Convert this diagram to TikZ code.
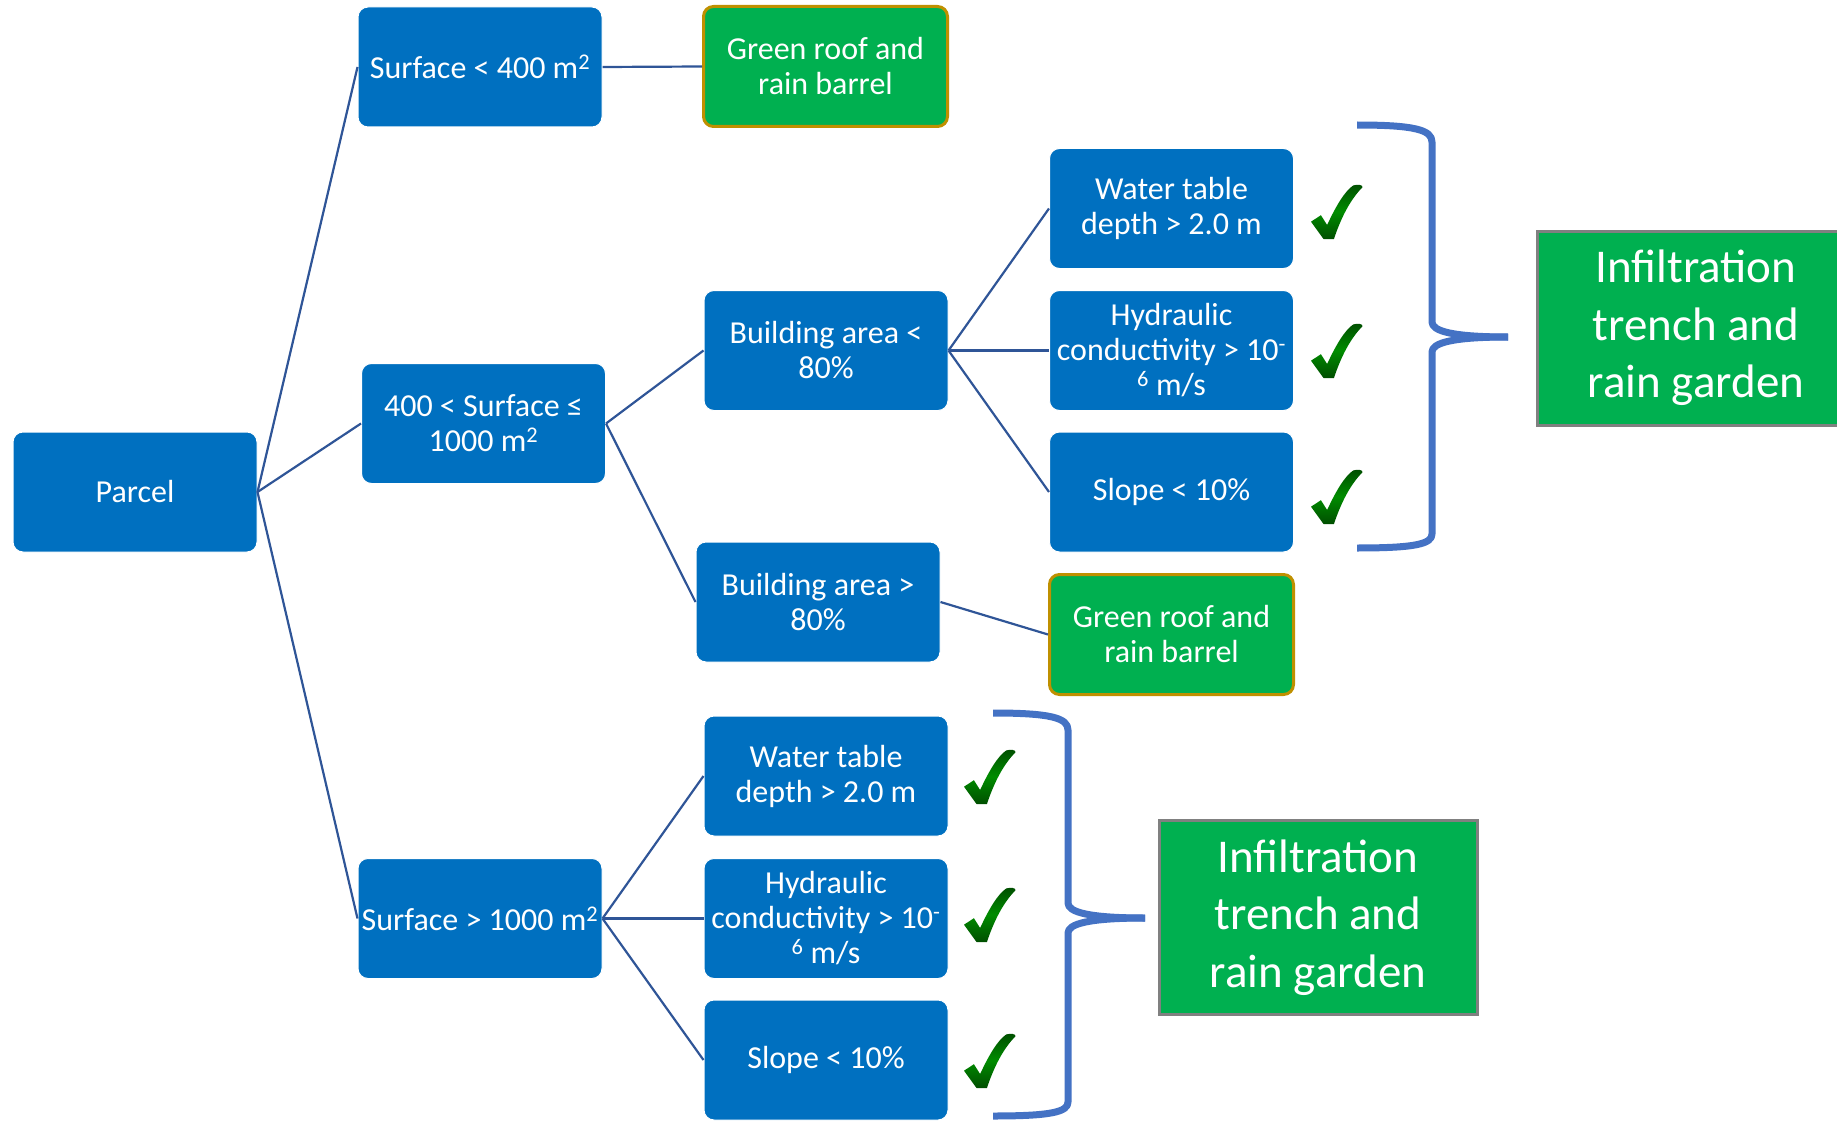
\documentclass[tikz,border=0pt]{standalone}
\usepackage{fontspec}
\setmainfont{Carlito}
\usepackage{tikz}
\usetikzlibrary{calc,shapes,positioning}
\definecolor{boxblue}{RGB}{0,112,192}
\definecolor{leafgreen}{RGB}{0,176,80}
\definecolor{linkblue}{RGB}{47,85,151}
\definecolor{braceblue}{RGB}{68,114,196}
\definecolor{roofedge}{RGB}{191,144,0}
\definecolor{ticklight}{RGB}{0,140,0}
\definecolor{tickdark}{RGB}{0,78,0}

% green check mark, origin at its lower left
\tikzset{tick/.pic={
  \shade[top color=tickdark, bottom color=tickdark, middle color=ticklight]
    (12.5pt,0pt) -- (0pt,17.3pt) -- (9.9pt,23.8pt) -- (16.1pt,14pt)
    .. controls (26pt,35.1pt) and (33.8pt,47.5pt) .. (42.1pt,53.5pt)
    .. controls (46.8pt,55pt) and (52pt,54pt) .. (51.5pt,51.8pt)
    .. controls (39pt,38.9pt) and (30.2pt,21.6pt) .. (22.9pt,0pt) -- cycle;
}}

\begin{document}
\begin{tikzpicture}[x=1pt,y=-1pt]
          \useasboundingbox (0,0) rectangle (1837,1121);
          \tikzstyle{cond}=[rectangle, rounded corners=10pt, fill=boxblue, draw=white, line width=1pt,
                            text=white, align=center, minimum width=244pt, minimum height=120pt,
                            inner sep=2pt, font=\fontsize{32}{35}\selectfont]
          \tikzstyle{roof}=[cond, fill=leafgreen, draw=roofedge, line width=3pt]
          \tikzstyle{infil}=[rectangle, fill=leafgreen, draw=black!50, line width=3pt, text=white,
                             align=center, minimum width=318pt, minimum height=194pt,
                             font=\fontsize{47}{57.5}\selectfont]
          \tikzstyle{every edge}=[-, draw=linkblue, line width=2.2pt]

          % root
          \node[cond] (Parcel) at (135,492) {Parcel};

          % first level
          \node[cond] (SU1) at (480,67) {Surface < 400 m\textsuperscript{2}};
          \node[cond] (SU2) at (483.5,423.5) {400 < Surface ≤\\1000 m\textsuperscript{2}};
          \node[cond] (SU3) at (480,918.5) {Surface > 1000 m\textsuperscript{2}};

          % second level
          \node[roof] (GR1) at (825.5,66.5) {Green roof and\\rain barrel};
          \node[cond] (BA1) at (826,350.5) {Building area <\\80\%};
          \node[cond] (BA2) at (818,602) {Building area >\\80\%};
          \node[cond] (WT2) at (826,776) {Water table\\depth > 2.0 m};
          \node[cond] (HC2) at (826,918.5) {Hydraulic\\conductivity > 10\textsuperscript{-}\\\textsuperscript{6} m/s};
          \node[cond] (SL2) at (826,1060) {Slope < 10\%};

          % third level
          \node[cond] (WT1) at (1171.5,208.5) {Water table\\depth > 2.0 m};
          \node[cond] (HC1) at (1171.5,350.5) {Hydraulic\\conductivity > 10\textsuperscript{-}\\\textsuperscript{6} m/s};
          \node[cond] (SL1) at (1171.5,492) {Slope < 10\%};
          \node[roof] (GR2) at (1171.5,634.5) {Green roof and\\rain barrel};

          % results
          \node[infil] (IT1) at (1696,328) {Infiltration\\trench and\\rain garden};
          \node[infil] (IT2) at (1318,917.5) {Infiltration\\trench and\\rain garden};

          \path (Parcel.east) edge (SU1.west)
                (Parcel.east) edge (SU2.west)
                (Parcel.east) edge (SU3.west);
          \path (SU1.east) edge (GR1.west);
          \path (SU2.east) edge (BA1.west)
                (SU2.east) edge (BA2.west);
          \path (BA1.east) edge (WT1.west)
                (BA1.east) edge (HC1.west)
                (BA1.east) edge (SL1.west);
          \path (BA2.east) edge (GR2.west);
          \path (SU3.east) edge (WT2.west)
                (SU3.east) edge (HC2.west)
                (SU3.east) edge (SL2.west);

          % check marks
          \pic at (1311,239) {tick};
          \pic at (1311,378) {tick};
          \pic at (1311,524) {tick};
          \pic at (964,804) {tick};
          \pic at (964,942) {tick};
          \pic at (964,1088) {tick};

          % braces
          \draw[braceblue, line width=7pt, line join=round]
            (1357,125) .. controls (1415,125) and (1432,130) .. (1432,142) -- (1432,322)
            .. controls (1432,331) and (1452,337) .. (1508,337);
          \draw[braceblue, line width=7pt, line join=round]
            (1508,337) .. controls (1452,337) and (1432,343) .. (1432,352) -- (1432,534)
            .. controls (1432,544) and (1415,548) .. (1357,548);
          \draw[braceblue, line width=7pt, line join=round]
            (993,713) .. controls (1051,713) and (1068,718) .. (1068,730) -- (1068,903)
            .. controls (1068,912) and (1088,918) .. (1145,918);
          \draw[braceblue, line width=7pt, line join=round]
            (1145,918) .. controls (1088,918) and (1068,924) .. (1068,933) -- (1068,1102)
            .. controls (1068,1112) and (1051,1116) .. (993,1116);
\end{tikzpicture}
\end{document}
